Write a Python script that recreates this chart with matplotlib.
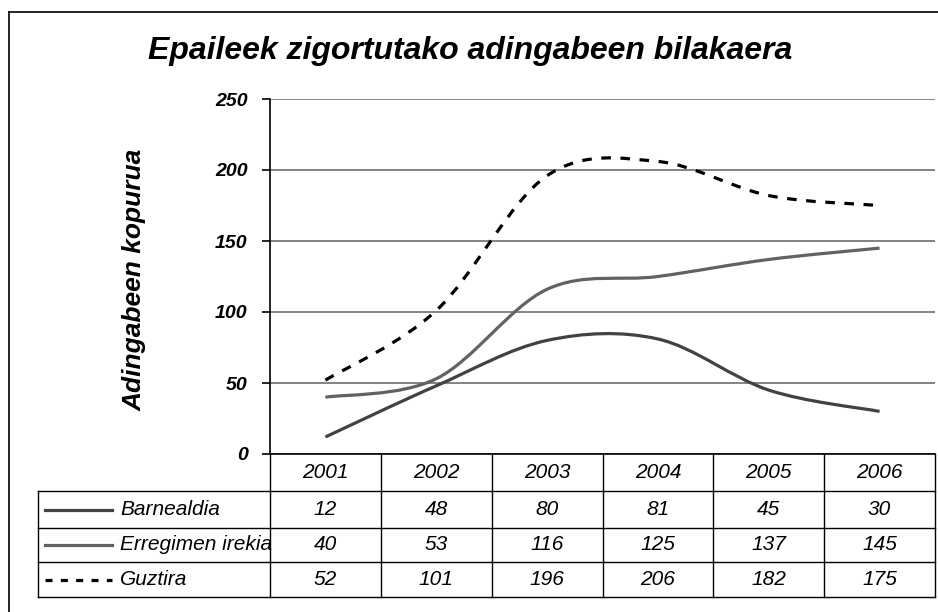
import matplotlib
matplotlib.use("Agg")
import matplotlib.pyplot as plt
from matplotlib.path import Path
from matplotlib.patches import PathPatch
from matplotlib.lines import Line2D

plt.rcParams['font.family'] = ['Liberation Sans', 'DejaVu Sans']

years = ['2001', '2002', '2003', '2004', '2005', '2006']
barnealdia = [12, 48, 80, 81, 45, 30]
erregimen_irekia = [40, 53, 116, 125, 137, 145]
guztira = [52, 101, 196, 206, 182, 175]

series_names = ['Barnealdia', 'Erregimen irekia', 'Guztira']
series_values = [barnealdia, erregimen_irekia, guztira]
series_colors = ['#424242', '#626262', '#000000']
series_styles = ['-', '-', (0, (3, 3))]

W, H = 938, 612


def fx(x):
    return x / W


def fy(y):
    return 1 - y / H


def smooth_path(xs, ys):
    # Catmull-Rom spline turned into cubic Bezier segments
    pts = list(zip(xs, ys))
    n = len(pts)
    verts = [pts[0]]
    codes = [Path.MOVETO]
    for i in range(n - 1):
        p0 = pts[max(i - 1, 0)]
        p1 = pts[i]
        p2 = pts[i + 1]
        p3 = pts[min(i + 2, n - 1)]
        c1 = (p1[0] + (p2[0] - p0[0]) / 6, p1[1] + (p2[1] - p0[1]) / 6)
        c2 = (p2[0] - (p3[0] - p1[0]) / 6, p2[1] - (p3[1] - p1[1]) / 6)
        verts += [c1, c2, p2]
        codes += [Path.CURVE4] * 3
    return Path(verts, codes)


fig = plt.figure(figsize=(W / 100, H / 100), dpi=100)

# outer frame
fig.add_artist(Line2D([fx(9), fx(938)], [fy(12), fy(12)], color='black', lw=1.2))
fig.add_artist(Line2D([fx(9), fx(9)], [fy(12), fy(612)], color='black', lw=1.2))

left, right, top, bottom = 270, 935, 99, 454
ax = fig.add_axes([fx(left), fy(bottom), fx(right - left), (bottom - top) / H])
ax.set_xlim(0, len(years))
ax.set_ylim(0, 250)
ax.set_yticks([0, 50, 100, 150, 200, 250])
ax.set_xticks([])
ax.grid(axis='y', color='#7a7a7a', lw=1.3)
ax.set_axisbelow(True)
for s in ['top', 'right']:
    ax.spines[s].set_visible(False)
ax.spines['left'].set_linewidth(1.2)
ax.spines['bottom'].set_linewidth(1.2)
ax.tick_params(axis='y', direction='out', length=6, width=1.2, pad=10,
               labelsize=14)
for lab in ax.get_yticklabels():
    lab.set_fontweight('bold')
    lab.set_fontstyle('italic')

xs = [i + 0.5 for i in range(len(years))]
for vals, col, ls in zip(series_values, series_colors, series_styles):
    patch = PathPatch(smooth_path(xs, vals), fill=False, edgecolor=col,
                      lw=2.3, linestyle=ls, capstyle='butt')
    ax.add_patch(patch)

fig.text(fx(470), fy(59), 'Epaileek zigortutako adingabeen bilakaera',
         ha='center', va='baseline', fontsize=23, fontweight='bold',
         fontstyle='italic')
fig.text(fx(135), fy(280), 'Adingabeen kopurua', ha='center', va='center',
         rotation=90, fontsize=19, fontweight='bold', fontstyle='italic')

# data table under the plot
col_edges = [left + (right - left) * i / len(years) for i in range(len(years) + 1)]
label_left = 38
header_bottom = 491
row_edges = [491, 528, 562, 597]
tcol = 'black'
tlw = 1.0
tsize = 15


def hline(x0, x1, y):
    fig.add_artist(Line2D([fx(x0), fx(x1)], [fy(y), fy(y)], color=tcol, lw=tlw))


def vline(x, y0, y1):
    fig.add_artist(Line2D([fx(x), fx(x)], [fy(y0), fy(y1)], color=tcol, lw=tlw))


for y in row_edges:
    hline(label_left, right, y)
vline(label_left, row_edges[0], row_edges[-1])
for x in col_edges:
    vline(x, bottom, row_edges[-1])

for i, yr in enumerate(years):
    cx = (col_edges[i] + col_edges[i + 1]) / 2
    fig.text(fx(cx), fy((bottom + header_bottom) / 2), yr, ha='center',
             va='center', fontsize=tsize, fontstyle='italic')

for r, (name, vals, col, ls) in enumerate(zip(series_names, series_values,
                                              series_colors, series_styles)):
    cy = (row_edges[r] + row_edges[r + 1]) / 2
    fig.add_artist(Line2D([fx(45), fx(112)], [fy(cy), fy(cy)], color=col,
                          lw=2.3, linestyle=ls if ls == '-' else (0, (2.2, 2.6))))
    fig.text(fx(120), fy(cy), name, ha='left', va='center', fontsize=tsize,
             fontstyle='italic')
    for i, v in enumerate(vals):
        cx = (col_edges[i] + col_edges[i + 1]) / 2
        fig.text(fx(cx), fy(cy), str(v), ha='center', va='center',
                 fontsize=tsize, fontstyle='italic')

fig.savefig('out.png', dpi=100, facecolor='white')
